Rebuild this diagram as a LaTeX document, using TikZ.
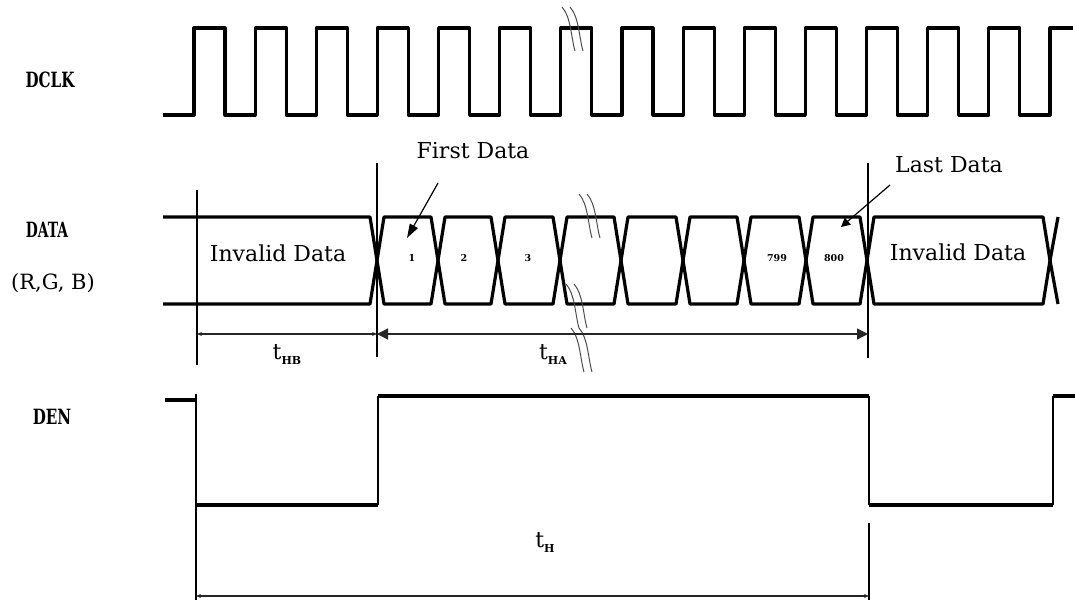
\documentclass[tikz,border=0pt]{standalone}
\usepackage{graphicx}
\usepackage{fontspec}
\setmainfont{DejaVu Serif}
\usepackage{tikz}
\usetikzlibrary{arrows.meta,positioning}

\tikzset{brk/.pic={\draw[black!70,line width=1pt] (0,0) .. controls (9,10) and (9,30) .. (13,44) (8,0) .. controls (17,10) and (17,30) .. (21,44);}}

\begin{document}
\begin{tikzpicture}[x=1pt,y=-1pt,>=Stealth,
  sig/.style={line width=3.2pt,line join=round},
  den/.style={line width=4.4pt},
  edge/.style={line width=2.2pt},
  ref/.style={line width=1.4pt},
  dim/.style={line width=1.3pt,black!85},
  lbl/.style={font=\fontsize{21}{21}\selectfont},
  txt/.style={font=\fontsize{22}{22}\selectfont},
  num/.style={font=\fontsize{9.5}{9.5}\selectfont\bfseries},
  sub/.style={font=\fontsize{22}{22}\selectfont}]
\useasboundingbox (0,0) rectangle (1075,604);
% signal names
\node[lbl] (dclk) at (50,80) {\scalebox{0.72}[1]{\bfseries DCLK}};
\node[lbl] (data) at (47,230) {\scalebox{0.66}[1]{\bfseries DATA}};
\node[lbl] (rgb) at (53,283) {(R,G, B)};
\node[lbl] (den) at (52,417) {\scalebox{0.72}[1]{\bfseries DEN}};
% clock
\draw[sig] (163,115) \foreach \k in {0,...,13} {-- ({194+61.14*\k},115) -- ({194+61.14*\k},28) -- ({225+61.14*\k},28) -- ({225+61.14*\k},115)} -- (1050,115) -- (1050,28) -- (1073,28);
\pic at (562,7) {brk};
% data bus
\draw[sig] (163,217) -- (370,217) -- (377,260.5) -- (370,304) -- (163,304);
\foreach \a/\b in {377/438,438/498,498/560,560/621,621/683,683/744,744/806,806/867,867/1050}
  \draw[sig] (\a,260.5) -- ({\a+7},217) -- ({\b-7},217) -- (\b,260.5) -- ({\b-7},304) -- ({\a+7},304) -- cycle;
\draw[sig] (1050,260.5) -- (1058,217) (1050,260.5) -- (1058,304);
\pic at (579,194) {brk};
\pic at (566,284) {brk};
\pic at (571,328) {brk};
\node[txt] (inv1) at (278,253) {Invalid Data};
\node[txt] (inv2) at (958,252) {Invalid Data};
\node[num] (d1) at (412,258) {1};
\node[num] (d2) at (464,258) {2};
\node[num] (d3) at (528,258) {3};
\node[num] (d799) at (777,258) {799};
\node[num] (d800) at (834,258) {800};
\node[txt] (first) at (473,151) {First Data};
\node[txt] (last) at (949,165) {Last Data};
\coordinate (f0) at (438,183); \coordinate (f1) at (407,238);
\coordinate (l0) at (890,185); \coordinate (l1) at (841,227);
\draw[line width=1.2pt,-{Triangle[length=14pt,width=9pt]}] (f0) -- (f1);
\draw[line width=1.2pt,-{Triangle[length=9pt,width=9pt]}] (l0) -- (l1);
% reference lines
\draw[ref] (197,190) -- (197,365);
\draw[ref] (377,163) -- (377,357);
\draw[ref] (868,163) -- (868,358);
\draw[ref] (196,505) -- (196,600);
\draw[ref] (869,523) -- (869,600);
\coordinate (hbL) at (197,334); \coordinate (hbR) at (377,334); \coordinate (haR) at (868,334);
\coordinate (hL) at (196,596); \coordinate (hR) at (869,596);
\draw[dim,{Stealth[length=5pt,width=4pt]}-{Stealth[length=5pt,width=4pt]}] (hbL) -- (hbR);
\draw[dim,{Triangle[length=11pt,width=11pt]}-{Triangle[length=11pt,width=11pt]}] (hbR) -- (haR);
\draw[dim,{Stealth[length=5pt,width=4pt]}-{Stealth[length=5pt,width=4pt]}] (hL) -- (hR);
\node[sub] (thb) at (287,355) {t\raisebox{-5pt}{\fontsize{11}{11}\selectfont\bfseries HB}};
\node[sub] (tha) at (553,355) {t\raisebox{-5pt}{\fontsize{11}{11}\selectfont\bfseries HA}};
\node[sub] (th) at (545,543) {t\raisebox{-5pt}{\fontsize{11}{11}\selectfont\bfseries H}};
% enable
\draw[den] (165,400) -- (195,400);
\draw[edge] (196,394) -- (196,505);
\draw[den] (196,505) -- (378,505);
\draw[edge] (378,505) -- (378,396);
\draw[den] (378,396) -- (869,396);
\draw[ref] (869,396) -- (869,505);
\draw[den] (869,505) -- (1053,505);
\draw[edge] (1053,505) -- (1053,396);
\draw[den] (1053,396) -- (1075,396);
\end{tikzpicture}
\end{document}
